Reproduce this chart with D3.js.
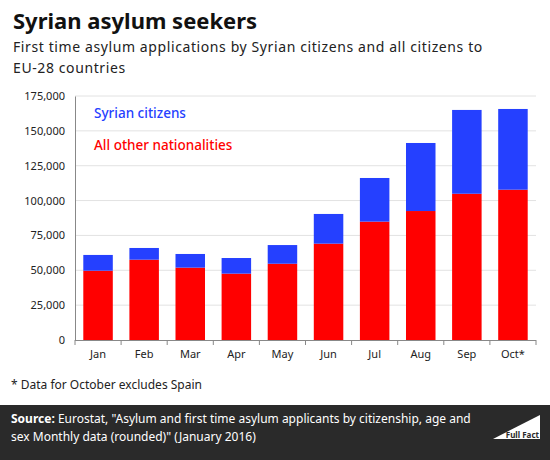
<!DOCTYPE html>
<html>
<head>
<meta charset="utf-8">
<script src="https://cdn.jsdelivr.net/npm/d3@7"></script>
<style>
  body { margin: 0; background: #fff; }
  text { font-family: "Noto Sans", "DejaVu Sans", sans-serif; }
</style>
</head>
<body>
<svg id="vis_svg"></svg>
<script>
// Data
const months = ['Jan', 'Feb', 'Mar', 'Apr', 'May', 'Jun', 'Jul', 'Aug', 'Sep', 'Oct*'];
const otherNationalities = [49700, 57600, 51900, 47600, 54700, 69100, 84900, 92500, 104900, 107800];
const syrianCitizens = [11300, 8400, 9800, 11200, 13400, 21300, 31300, 48800, 60100, 57900];
const yTicks = [0, 25000, 50000, 75000, 100000, 125000, 150000, 175000];
const seriesNames = ['All other nationalities', 'Syrian citizens'];
const seriesColours = ['#ff0000', '#2540ff'];

let config = {
    'svg': { 'width': 550, 'height': 460 },
    'plot': { 'left': 75, 'right': 536, 'top': 96, 'bottom': 340 }
};

function translate(x, y) {
    return 'translate(' + x + ',' + y + ')';
}

function visDraw() {
    let svg = d3.select('#vis_svg')
        .attr('width', config.svg.width)
        .attr('height', config.svg.height);

    // Titles
    svg.append('text')
        .attr('x', 13).attr('y', 29)
        .style('font-size', '22px').style('font-weight', 'bold').style('fill', '#111')
        .text('Syrian asylum seekers');
    svg.append('text')
        .attr('x', 13).attr('y', 52)
        .style('font-size', '14px').style('letter-spacing', '0.6px').style('fill', '#222')
        .text('First time asylum applications by Syrian citizens and all citizens to');
    svg.append('text')
        .attr('x', 13).attr('y', 73)
        .style('font-size', '14px').style('letter-spacing', '0.6px').style('fill', '#222')
        .text('EU-28 countries');

    // Scales
    let x = d3.scaleBand()
        .domain(months)
        .range([config.plot.left, config.plot.right])
        .paddingInner(0.36)
        .paddingOuter(0.18);
    let y = d3.scaleLinear()
        .domain([0, 175000])
        .range([config.plot.bottom, config.plot.top]);

    // Gridlines
    svg.append('g')
        .selectAll('line')
        .data(yTicks.filter(d => d > 0))
        .join('line')
        .attr('x1', config.plot.left).attr('x2', config.plot.right)
        .attr('y1', d => y(d)).attr('y2', d => y(d))
        .style('stroke', '#e2e2e2').style('stroke-width', 1);

    // Stacked bars
    let rows = months.map((m, i) => ({
        month: m,
        other: otherNationalities[i],
        syrian: syrianCitizens[i]
    }));
    let stack = d3.stack().keys(['other', 'syrian'])(rows);

    svg.append('g')
        .selectAll('g')
        .data(stack)
        .join('g')
        .style('fill', (d, i) => seriesColours[i])
        .selectAll('rect')
        .data(d => d)
        .join('rect')
        .attr('x', d => x(d.data.month))
        .attr('width', x.bandwidth())
        .attr('y', d => y(d[1]))
        .attr('height', d => y(d[0]) - y(d[1]));

    // Y axis
    let yAxis = d3.axisLeft(y)
        .tickValues(yTicks)
        .tickSize(0)
        .tickPadding(10)
        .tickFormat(d3.format(','));
    let yG = svg.append('g')
        .attr('transform', translate(config.plot.left, 0))
        .call(yAxis);
    yG.select('.domain').style('stroke', '#888');
    yG.selectAll('text').style('font-size', '11px').style('fill', '#222')
        .style('font-family', '"Noto Sans", sans-serif');

    // X axis with ticks at band boundaries
    let xAxis = d3.axisBottom(x).tickSize(0).tickPadding(10);
    let xG = svg.append('g')
        .attr('transform', translate(0, config.plot.bottom))
        .call(xAxis);
    xG.select('.domain').remove();
    xG.selectAll('text').style('font-size', '11px').style('fill', '#222')
        .style('font-family', '"Noto Sans", sans-serif');
    xG.append('line')
        .attr('x1', config.plot.left).attr('x2', config.plot.right)
        .attr('y1', 0.5).attr('y2', 0.5)
        .style('stroke', '#888');
    let boundaries = months.map((m, i) => config.plot.left + i * (config.plot.right - config.plot.left) / months.length)
        .concat([config.plot.right]);
    xG.selectAll('.band-tick')
        .data(boundaries)
        .join('line')
        .attr('class', 'band-tick')
        .attr('x1', d => d).attr('x2', d => d)
        .attr('y1', 0).attr('y2', 5)
        .style('stroke', '#888');

    // Legend
    svg.append('text')
        .attr('x', 94).attr('y', 118)
        .style('font-size', '13.5px').style('font-weight', '500').style('fill', seriesColours[1])
        .text(seriesNames[1]);
    svg.append('text')
        .attr('x', 94).attr('y', 150)
        .style('font-size', '13.5px').style('font-weight', '500').style('fill', seriesColours[0])
        .text(seriesNames[0]);

    // Footnote
    svg.append('text')
        .attr('x', 11).attr('y', 389)
        .style('font-size', '12px').style('fill', '#222')
        .text('* Data for October excludes Spain');

    // Source band
    svg.append('rect')
        .attr('x', 0).attr('y', 405)
        .attr('width', config.svg.width).attr('height', 55)
        .style('fill', '#2a2a2a');
    let src = svg.append('text')
        .attr('x', 11).attr('y', 423)
        .style('font-size', '12px').style('fill', '#fff');
    src.append('tspan').style('font-weight', 'bold').text('Source:');
    src.append('tspan').text(' Eurostat, "Asylum and first time asylum applicants by citizenship, age and');
    svg.append('text')
        .attr('x', 11).attr('y', 441)
        .style('font-size', '12px').style('fill', '#fff')
        .text('sex Monthly data (rounded)" (January 2016)');

    // Logo
    svg.append('path')
        .attr('d', 'M493,439 L540,415 L540,439 Z')
        .style('fill', '#fff');
    svg.append('text')
        .attr('x', 539).attr('y', 438)
        .attr('text-anchor', 'end')
        .style('font-size', '8px').style('font-weight', 'bold').style('fill', '#2a2a2a')
        .text('Full Fact');
}

visDraw();
</script>
</body>
</html>
